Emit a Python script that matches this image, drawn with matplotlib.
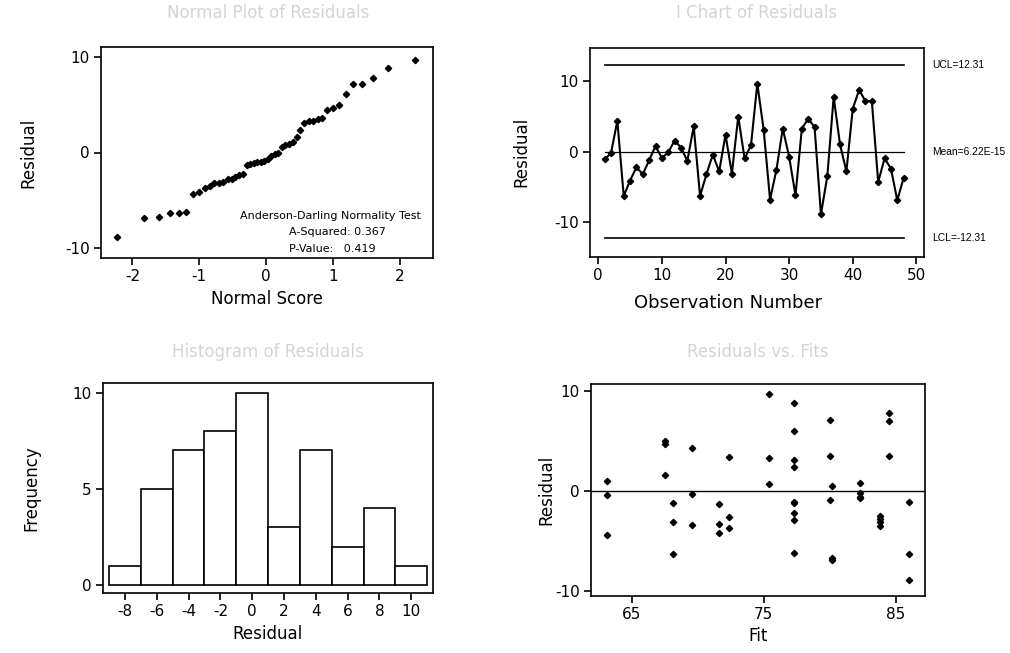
import numpy as np
import matplotlib
matplotlib.use("Agg")
import matplotlib.pyplot as plt
import matplotlib.transforms as mtransforms
from statistics import NormalDist

plt.rcParams['font.family'] = ['DejaVu Sans']
plt.rcParams['axes.unicode_minus'] = False

# ---- data ----
# residuals in observation order (I chart)
residuals = [-1.1, -0.2, 4.4, -6.3, -4.1, -2.2, -3.2, -1.2, 0.8, -0.9,
             -0.1, 1.6, 0.6, -1.3, 3.6, -6.3, -3.2, -0.4, -2.8, 2.4,
             -3.1, 5.0, -0.95, 0.9, 9.7, 3.1, -6.8, -2.6, 3.3, -0.7,
             -6.2, 3.3, 4.7, 3.5, -8.9, -3.5, 7.8, 1.05, -2.8, 6.1,
             8.8, 7.2, 7.2, -4.3, -0.95, -2.4, -6.9, -3.7]
ucl = 12.31
mean_val = 0.0
lcl = -12.31
ad_a2 = 0.367
ad_p = 0.419

hist_edges = [-9, -7, -5, -3, -1, 1, 3, 5, 7, 9, 11]
hist_ticks = [-8, -6, -4, -2, 0, 2, 4, 6, 8, 10]

# residuals vs fits
fits = [63.15, 63.15, 63.15,
        67.55, 67.55, 67.55,
        68.1, 68.1, 68.1,
        69.6, 69.6, 69.6,
        71.6, 71.6, 71.6,
        72.4, 72.4, 72.4,
        75.4, 75.4, 75.4,
        77.3, 77.3, 77.3, 77.3, 77.3, 77.3, 77.3, 77.3, 77.3,
        80.05, 80.05, 80.15, 80.05, 80.15, 80.15,
        82.3, 82.3, 82.3, 82.3,
        83.8, 83.8, 83.8, 83.8,
        84.5, 84.5, 84.5,
        86.0, 86.0, 86.0]
fit_resid = [1.0, -0.47, -4.43,
             4.97, 4.67, 1.53,
             -1.2, -3.17, -6.3,
             4.23, -0.33, -3.47,
             -1.33, -3.33, -4.2,
             3.4, -2.63, -3.77,
             9.67, 3.23, 0.67,
             8.8, 5.93, 3.07, 2.33, -1.1, -1.2, -2.23, -2.93, -6.2,
             7.03, 3.5, 0.47, -0.93, -6.7, -6.93,
             0.73, -0.27, -0.6, -0.77,
             -2.5, -2.83, -3.17, -3.53,
             7.8, 7.0, 3.5,
             -1.13, -6.37, -8.97]

# ---- figure ----
W, H = 1010, 653
fig = plt.figure(figsize=(W / 100, H / 100), dpi=100)


def px_axes(left, top, right, bottom):
    return fig.add_axes([left / W, (H - bottom) / H, (right - left) / W, (bottom - top) / H])


def style(ax):
    for s in ax.spines.values():
        s.set_linewidth(1.2)
        s.set_color('black')
    ax.tick_params(direction='out', length=5, width=1.2, labelsize=11, pad=3,
                   top=False, right=False)


title_kw = dict(color='#d4d4d4', fontsize=12, ha='center', va='center')
mk = dict(marker='D', markersize=3.2, color='black')
small_font = ['Liberation Sans', 'DejaVu Sans']

# Panel 1: Normal plot
ax1 = px_axes(101, 47, 433, 258)
style(ax1)
n = len(residuals)
sorted_res = np.sort(residuals)
nscore = [NormalDist().inv_cdf((i - 0.375) / (n + 0.25)) for i in range(1, n + 1)]
ax1.plot(nscore, sorted_res, linestyle='none', **mk)
ax1.set_xlim(-2.47, 2.5)
ax1.set_ylim(-11.05, 11.05)
ax1.set_xticks([-2, -1, 0, 1, 2])
ax1.set_yticks([-10, 0, 10])
ax1.set_xlabel('Normal Score', fontsize=12)
ax1.set_ylabel('Residual', fontsize=12, labelpad=20)
ax1.text(0.419, 0.20, 'Anderson-Darling Normality Test', transform=ax1.transAxes,
         fontsize=8, ha='left', va='center')
ax1.text(0.566, 0.122, f'A-Squared: {ad_a2:.3f}', transform=ax1.transAxes,
         fontsize=8, ha='left', va='center')
ax1.text(0.566, 0.042, f'P-Value:   {ad_p:.3f}', transform=ax1.transAxes,
         fontsize=8, ha='left', va='center')
fig.text(268 / W, 1 - 13 / H, 'Normal Plot of Residuals', **title_kw)

# Panel 2: I chart
ax2 = px_axes(590, 47.7, 924, 257)
style(ax2)
obs = np.arange(1, n + 1)
ax2.plot(obs, residuals, linewidth=1.5, **mk)
ax2.plot([1, n], [ucl, ucl], color='black', linewidth=1.2)
ax2.plot([1, n], [lcl, lcl], color='black', linewidth=1.2)
ax2.plot([1, n], [mean_val, mean_val], color='black', linewidth=0.9)
ax2.set_xlim(-1.3, 51.2)
ax2.set_ylim(-14.97, 14.8)
ax2.set_xticks([0, 10, 20, 30, 40, 50])
ax2.set_yticks([-10, 0, 10])
ax2.set_xlabel('Observation Number', fontsize=13)
ax2.xaxis.set_label_coords((728 - 590) / 334, -0.175)
ax2.set_ylabel('Residual', fontsize=12, labelpad=17)
tr = mtransforms.blended_transform_factory(ax2.transAxes, ax2.transData)
ax2.text(1.025, ucl, f'UCL={ucl:.2f}', transform=tr, fontsize=7.4, family=small_font,
         ha='left', va='center')
ax2.text(1.025, mean_val, 'Mean=6.22E-15', transform=tr, fontsize=7.4, family=small_font,
         ha='left', va='center')
ax2.text(1.025, lcl, f'LCL={lcl:.2f}', transform=tr, fontsize=7.4, family=small_font,
         ha='left', va='center')
fig.text(757 / W, 1 - 13 / H, 'I Chart of Residuals', **title_kw)

# Panel 3: Histogram
ax3 = px_axes(102.7, 382.7, 432.7, 593.3)
style(ax3)
ax3.hist(residuals, bins=hist_edges, color='white', edgecolor='black', linewidth=1.2)
ax3.set_xlim(-9.4, 11.35)
ax3.set_ylim(-0.43, 10.52)
ax3.set_xticks(hist_ticks)
ax3.set_yticks([0, 5, 10])
ax3.set_xlabel('Residual', fontsize=12)
ax3.set_ylabel('Frequency', fontsize=12, labelpad=23)
fig.text(268 / W, 1 - 352 / H, 'Histogram of Residuals', **title_kw)

# Panel 4: Residuals vs fits
ax4 = px_axes(591, 384, 925, 595.7)
style(ax4)
ax4.plot(fits, fit_resid, linestyle='none', **mk)
ax4.axhline(0, color='black', linewidth=1.0)
ax4.set_xlim(61.92, 87.22)
ax4.set_ylim(-10.5, 10.67)
ax4.set_xticks([65, 75, 85])
ax4.set_yticks([-10, 0, 10])
ax4.set_xlabel('Fit', fontsize=12)
ax4.set_ylabel('Residual', fontsize=12, labelpad=0)
fig.text(758 / W, 1 - 352 / H, 'Residuals vs. Fits', **title_kw)

fig.savefig('out.png', dpi=100, facecolor='white')
